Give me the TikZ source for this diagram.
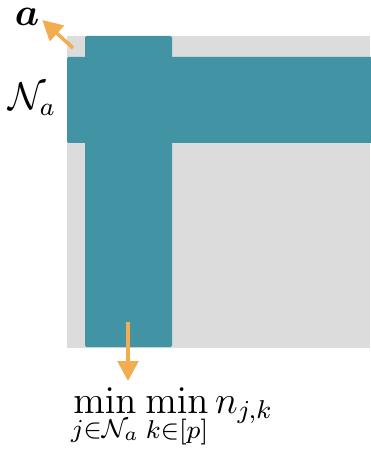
\documentclass[tikz,border=0pt]{standalone}
\usepackage{amsmath,amssymb,bm}
\usetikzlibrary{arrows.meta}
\definecolor{teal1}{RGB}{66,148,165}
\definecolor{gray1}{RGB}{220,220,220}
\definecolor{orange1}{RGB}{242,173,78}
\tikzset{
  bar/.style={fill=teal1, rounded corners=0.4pt},
  pointer/.style={draw=orange1, line width=1.1pt, -{Triangle[length=6.2pt,width=6.4pt]}},
  lbl/.style={inner sep=0pt, outer sep=0pt}
}
\begin{document}
\begin{tikzpicture}[x=0.31pt,y=-0.31pt]
\useasboundingbox (0,0) rectangle (370,455);
% gray matrix
\fill[gray1] (67,36) rectangle (370,348);
% horizontal bar (row N_a)
\path[bar] (67,57) rectangle (372,143);
% vertical bar (column)
\path[bar] (85,36) rectangle (172,347);
% labels
\node[lbl] (a) at (27,17) {\large$\bm{a}$};
\node[lbl, anchor=base west] (Na) at (8,110) {\large$\mathcal{N}_{\!\,a}$};
\node[lbl, anchor=base west] (f) at (71,413) {\large$\displaystyle\min_{j\in\mathcal{N}_a}\min_{k\in[p]} n_{j,k}$};
% arrow ends
\coordinate (tl) at (73,48);
\coordinate (cb) at (128,322);
\coordinate (ft) at (128,381);
\draw[pointer] (tl) -- ([shift={(3,3)}]a.east);
\draw[pointer] (cb) -- (ft);
\end{tikzpicture}
\end{document}
